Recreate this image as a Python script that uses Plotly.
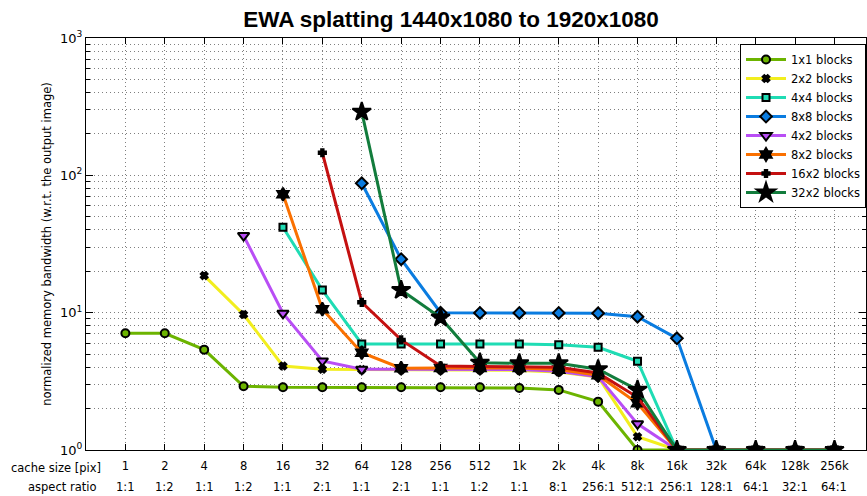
import plotly.graph_objects as go

cache_sizes = ["1", "2", "4", "8", "16", "32", "64", "128", "256", "512",
               "1k", "2k", "4k", "8k", "16k", "32k", "64k", "128k", "256k"]
aspect_ratios = ["1:1", "1:2", "1:1", "1:2", "1:1", "2:1", "1:1", "2:1", "1:1", "1:2",
                 "1:1", "8:1", "256:1", "512:1", "256:1", "128:1", "64:1", "32:1", "64:1"]

# None = no measurement for that cache size
bw_1x1 = [7.08, 7.08, 5.38, 2.91, 2.86, 2.86, 2.86, 2.86, 2.86, 2.86,
          2.83, 2.74, 2.25, 1.0, 1.0, 1.0, 1.0, 1.0, 1.0]
bw_2x2 = [None, None, 18.6, 9.7, 4.09, 3.87, 3.85, 3.83, 3.82, 3.82,
          3.8, 3.7, 3.4, 1.25, 1.0, 1.0, 1.0, 1.0, 1.0]
bw_4x4 = [None, None, None, None, 41.9, 14.6, 5.92, 5.92, 5.92, 5.92,
          5.92, 5.83, 5.6, 4.43, 1.0, 1.0, 1.0, 1.0, 1.0]
bw_8x8 = [None, None, None, None, None, None, 87.5, 24.5, 10.0, 9.95,
          9.95, 9.95, 9.9, 9.35, 6.5, 1.0, 1.0, 1.0, 1.0]
bw_4x2 = [None, None, None, 36.4, 9.9, 4.45, 3.87, 3.87, 3.87, 3.87,
          3.85, 3.75, 3.42, 1.55, 1.0, 1.0, 1.0, 1.0, 1.0]
bw_8x2 = [None, None, None, None, 72.8, 10.6, 5.11, 3.94, 3.95, 3.95,
          3.95, 3.85, 3.5, 2.19, 1.0, 1.0, 1.0, 1.0, 1.0]
bw_16x2 = [None, None, None, None, None, 146.0, 11.9, 6.33, 4.09, 4.05,
           4.05, 4.0, 3.64, 2.42, 1.0, 1.0, 1.0, 1.0, 1.0]
bw_32x2 = [None, None, None, None, None, None, 290.0, 14.6, 9.2, 4.32,
           4.28, 4.28, 3.87, 2.74, 1.0, 1.0, 1.0, 1.0, 1.0]

series = [
    ("1x1 blocks", bw_1x1, "#6cb400", "circle", 8, None),
    ("2x2 blocks", bw_2x2, "#f2ee1e", "x", 6, "black"),
    ("4x4 blocks", bw_4x4, "#1fdcb4", "square", 7, None),
    ("8x8 blocks", bw_8x8, "#0a7ce0", "diamond", 9, None),
    ("4x2 blocks", bw_4x2, "#b94ef5", "triangle-down", 10, None),
    ("8x2 blocks", bw_8x2, "#fa7000", "hexagram", 10, "black"),
    ("16x2 blocks", bw_16x2, "#c41010", "cross", 6, "black"),
    ("32x2 blocks", bw_32x2, "#127c3c", "star", 14, "black"),
]

FONT = "DejaVu Sans, sans-serif"
x = list(range(len(cache_sizes)))

L, R, T, B, W, H = 86, 1, 38, 46, 867, 496
pw, ph = W - L - R, H - T - B

fig = go.Figure()
for name, vals, color, symbol, size, fill in series:
    fig.add_trace(go.Scatter(
        x=x, y=vals, name=name, mode="lines+markers",
        line=dict(color=color, width=3),
        marker=dict(symbol=symbol, size=size, color=fill or color,
                    line=dict(color="black", width=2)),
        connectgaps=False,
    ))

# second row of x labels (aspect ratio) and the two row titles
for i, ar in enumerate(aspect_ratios):
    fig.add_annotation(x=i, y=0, xref="x", yref="paper", text=ar, showarrow=False,
                       yanchor="middle", yshift=-37, font=dict(size=11.5, color="black", family=FONT))
for txt, px, py in [("cache size [pix]", 103, 468), ("aspect ratio", 98, 487)]:
    fig.add_annotation(x=(px - L) / pw, y=(H - B - py) / ph, xref="paper", yref="paper",
                       text=txt, showarrow=False, xanchor="right", yanchor="middle",
                       font=dict(size=11.5, color="black", family=FONT))

minor_vals = [m * 10 ** e for e in range(3) for m in range(2, 10)]
DOT = "1px,3px"
GRID = "rgba(0,0,0,0.5)"

fig.update_layout(
    width=W, height=H,
    margin=dict(l=L, r=R, t=T, b=B, autoexpand=False),
    paper_bgcolor="white", plot_bgcolor="white",
    font=dict(family=FONT, size=12, color="black"),
    title=dict(text="<b>EWA splatting 1440x1080 to 1920x1080</b>", x=451 / W, xref="container",
               xanchor="center", y=1 - 19 / H, yanchor="middle",
               font=dict(size=22.5, family="Liberation Sans, Arial, sans-serif", color="black")),
    xaxis=dict(
        range=[-1, 18.8], tickmode="array", tickvals=x, ticktext=cache_sizes,
        ticks="inside", ticklen=6, tickcolor="black", showline=True, linecolor="black",
        linewidth=1, mirror="ticks", showgrid=True, gridcolor=GRID,
        griddash=DOT, gridwidth=1, zeroline=False, ticklabelstandoff=5,
        tickfont=dict(size=11.5), automargin=False,
    ),
    yaxis=dict(
        type="log", range=[0, 3], tickmode="array", tickvals=[1, 10, 100, 1000],
        ticktext=["10<sup>0</sup>", "10<sup>1</sup>", "10<sup>2</sup>", "10<sup>3</sup>"],
        ticks="inside", ticklen=7, tickcolor="black", showline=True, linecolor="black",
        linewidth=1, mirror="ticks", showgrid=True, gridcolor=GRID,
        griddash=DOT, gridwidth=1, zeroline=False, tickfont=dict(size=13),
        automargin=False,
        title=dict(text="normalized memory bandwidth (w.r.t. the output image)",
                   font=dict(size=11.5), standoff=6),
        minor=dict(tickmode="array", tickvals=minor_vals, ticks="inside", ticklen=4,
                   tickcolor="black", showgrid=True, gridcolor=GRID,
                   griddash=DOT, gridwidth=1),
    ),
    legend=dict(
        x=1, y=1 - 6 / ph, xanchor="right", yanchor="top",
        bgcolor="white", bordercolor="black", borderwidth=1,
        font=dict(size=11.5, family=FONT), tracegroupgap=0, itemwidth=40,
    ),
    showlegend=True,
)

# drop the page's default body margin so the figure sits at the window origin
fig.write_html("out.html", config={"displayModeBar": False},
               post_script="document.body.style.margin='0';")
